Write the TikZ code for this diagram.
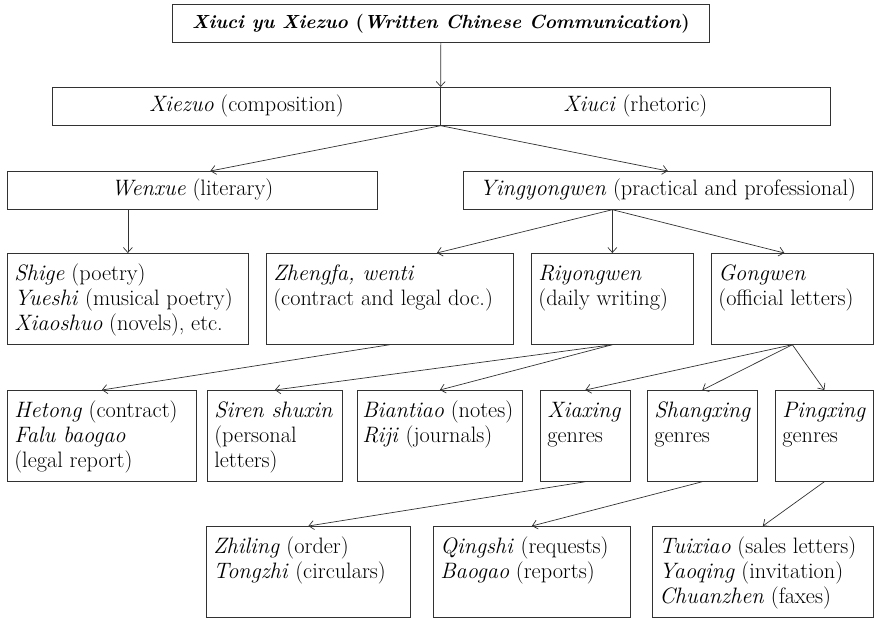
\documentclass[tikz,border=0pt]{standalone}
\usepackage{tikz}
\usetikzlibrary{arrows.meta}
\tikzset{>={Straight Barb[length=5pt,width=9pt]}}
\definecolor{mygray2}{RGB}{50, 50, 50}
\newcommand{\cellbox}[2]{\parbox[t][71pt][t]{#1}{\begin{tabular}[t]{@{}l@{}}#2\end{tabular}}}

\tikzset{
  head/.style = {draw = mygray2, line width = 0.7pt, anchor = north west, inner sep = 0pt,
                 minimum height = 38pt, font = \fontsize{22.3}{25}\selectfont},
  leaf/.style = {draw = mygray2, line width = 0.7pt, anchor = north west, inner xsep = 7pt,
                 inner ysep = 10pt, font = \fontsize{22.3}{25}\selectfont}
  ,
  link/.style = {->, mygray2, line width = 0.7pt}
}

\begin{document}
\begin{tikzpicture}[x = 1pt, y = -1pt]
\useasboundingbox (0,0) rectangle (874,618);
% top of the tree
\node [head, minimum width = 537pt, font = \fontsize{19}{25}\selectfont] (title) at (172,4) {\bfseries\itshape Xiuci yu Xiezuo \upshape(\itshape Written Chinese Communication\/\upshape)};
\node [head, minimum width = 388pt] (xiezuo) at (52,87) {\textit{Xiezuo} (composition)};
\node [head, minimum width = 390pt] (xiuci) at (440,87) {\textit{Xiuci} (rhetoric)};
\node [head, minimum width = 370pt] (wenxue) at (7,171) {\textit{Wenxue} (literary)};
\node [head, minimum width = 409pt] (yingyong) at (463,171) {\textit{Yingyongwen} (practical and professional)};
% third row
\node [leaf] (shige) at (7,253) {\cellbox{227pt}{\textit{Shige} (poetry)\\ \textit{Yueshi} (musical poetry)\\ \textit{Xiaoshuo} (novels), etc.}};
\node [leaf] (zhengfa) at (266,253) {\cellbox{233pt}{\textit{Zhengfa, wenti}\\ (contract and legal doc.)}};
\node [leaf] (riyong) at (531,253) {\cellbox{148pt}{\textit{Riyongwen}\\ (daily writing)}};
\node [leaf] (gongwen) at (711,253) {\cellbox{148pt}{\textit{Gongwen}\\ (official letters)}};
% fourth row
\node [leaf] (hetong) at (7,390) {\cellbox{175pt}{\textit{Hetong} (contract)\\ \textit{Falu baogao}\\ (legal report)}};
\node [leaf] (siren) at (207,390) {\cellbox{121pt}{\textit{Siren shuxin}\\ (personal\\ letters)}};
\node [leaf, inner xsep = 5pt] (biantiao) at (357,390) {\cellbox{155pt}{\textit{Biantiao} (notes)\\ \textit{Riji} (journals)}};
\node [leaf] (xiaxing) at (540,390) {\cellbox{76pt}{\textit{Xiaxing}\\ genres}};
\node [leaf] (shangxing) at (647,390) {\cellbox{96pt}{\textit{Shangxing}\\ genres}};
\node [leaf] (pingxing) at (775,390) {\cellbox{84pt}{\textit{Pingxing}\\ genres}};
% bottom row
\node [leaf] (zhiling) at (206,526) {\cellbox{190pt}{\textit{Zhiling} (order)\\ \textit{Tongzhi} (circulars)}};
\node [leaf] (qingshi) at (433,526) {\cellbox{183pt}{\textit{Qingshi} (requests)\\ \textit{Baogao} (reports)}};
\node [leaf] (tuixiao) at (652,526) {\cellbox{207pt}{\textit{Tuixiao} (sales letters)\\ \textit{Yaoqing} (invitation)\\ \textit{Chuanzhen} (faxes)}};

\draw [link] (title.south) -- (xiezuo.north east);
\draw [link] (xiezuo.south east) -- ([xshift = 18pt]wenxue.north);
\draw [link] (xiezuo.south east) -- (yingyong.north);
\draw [link] (wenxue.south -| shige.north) -- (shige.north);
\draw [link] (yingyong.south -| riyong.north) -- ([xshift = 47pt]zhengfa.north);
\draw [link] (yingyong.south -| riyong.north) -- (riyong.north);
\draw [link] (yingyong.south -| riyong.north) -- ([xshift = -8pt]gongwen.north);
\draw [link] (zhengfa.south) -- (hetong.north);
\draw [link] (riyong.south) -- (siren.north);
\draw [link] (riyong.south) -- (biantiao.north);
\draw [link] (gongwen.south) -- (xiaxing.north);
\draw [link] (gongwen.south) -- (shangxing.north);
\draw [link] (gongwen.south) -- (pingxing.north);
\draw [link] (xiaxing.south) -- (zhiling.north);
\draw [link] (shangxing.south) -- (qingshi.north);
\draw [link] (pingxing.south) -- (tuixiao.north);
\end{tikzpicture}
\end{document}
